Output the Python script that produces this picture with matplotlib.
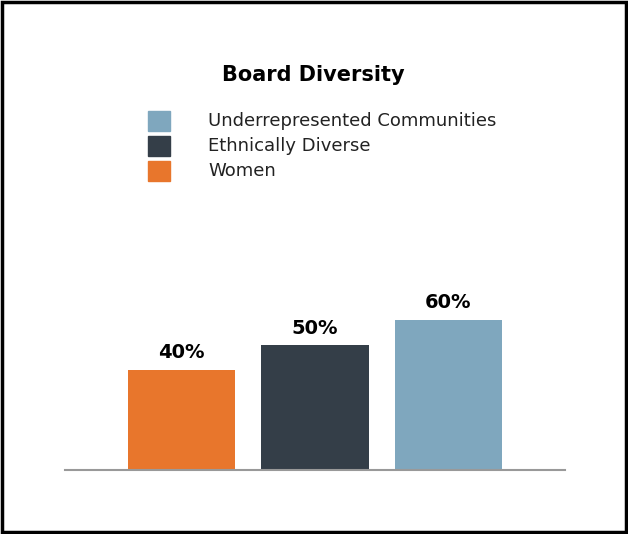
import matplotlib
matplotlib.use('Agg')
import matplotlib.pyplot as plt
from matplotlib.patches import Rectangle

categories = ['Women', 'Ethnically Diverse', 'Underrepresented Communities']
values = [40, 50, 60]
colors = ['#E8762C', '#343E48', '#7FA7BE']

W, H = 628, 534
fig = plt.figure(figsize=(W / 100, H / 100), dpi=100)
fig.patch.set_facecolor('white')

# outer frame
fig.patches.append(Rectangle((2 / W, 2 / H), (W - 4) / W, (H - 4) / H, transform=fig.transFigure,
                             fill=False, edgecolor='black', linewidth=2.5))

ax = fig.add_axes([65 / W, (H - 470) / H, 500 / W, 250 / H])
ax.bar(range(3), values, width=0.805, color=colors)
ax.set_xlim(-0.876, 2.876)
ax.set_ylim(0, 100)
for i, v in enumerate(values):
    ax.text(i, v + 3, '%d%%' % v, ha='center', va='bottom', fontsize=14, fontweight='bold')
for s in ['top', 'right', 'left']:
    ax.spines[s].set_visible(False)
ax.spines['bottom'].set_color('#999999')
ax.spines['bottom'].set_linewidth(1.5)
ax.set_xticks([])
ax.set_yticks([])

fig.text(313 / W, 1 - 75 / H, 'Board Diversity', ha='center', va='center', fontsize=15, fontweight='bold')

# legend, top to bottom in reverse order
for k, idx in enumerate([2, 1, 0]):
    yc = 121 + 25 * k
    fig.patches.append(Rectangle((148 / W, 1 - (yc + 10) / H), 22 / W, 20 / H,
                                 transform=fig.transFigure, color=colors[idx]))
    fig.text(208 / W, 1 - yc / H, categories[idx], ha='left', va='center', fontsize=13, color='#222222')

fig.savefig('out.png', dpi=100)
